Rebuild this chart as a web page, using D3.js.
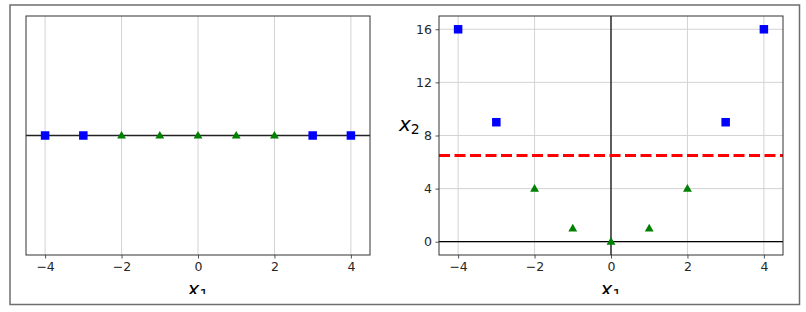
<!DOCTYPE html>
<html><head><meta charset="utf-8">
<script src="https://cdn.jsdelivr.net/npm/d3@7"></script>
<style>body{margin:0;background:#fff;} svg{display:block;}</style>
</head><body>
<script>
// ---- data ----
const x1Values = [-4, -3, -2, -1, 0, 1, 2, 3, 4];
const classes  = [0, 0, 1, 1, 1, 1, 1, 0, 0];
const x2Values = [16, 9, 4, 1, 0, 1, 4, 9, 16];
const threshold = 6.5;
const xTicks = [-4, -2, 0, 2, 4];
const yTicks = [0, 4, 8, 12, 16];

const W = 806, H = 312;
const svg = d3.select("body").append("svg").attr("width", W).attr("height", H);

svg.append("rect").attr("x", 10).attr("y", 5).attr("width", 789.5).attr("height", 299.5)
  .attr("fill", "none").attr("stroke", "#6e6e6e").attr("stroke-width", 1.5);

const defs = svg.append("defs");
defs.append("clipPath").attr("id", "labclip").append("rect")
  .attr("x", 0).attr("y", 0).attr("width", W).attr("height", 294);

const tickColor = "#262626";
const gridColor = "#d3d3d3";

function drawPanel(left, right, top, bottom, yDomain, opts) {
  const x = d3.scaleLinear().domain([-4.5, 4.5]).range([left, right]);
  const y = d3.scaleLinear().domain(yDomain).range([bottom, top]);
  const g = svg.append("g");

  // grid
  g.append("g").selectAll("line").data(xTicks).join("line")
    .attr("x1", d => x(d)).attr("x2", d => x(d)).attr("y1", top).attr("y2", bottom)
    .attr("stroke", gridColor).attr("stroke-width", 1);
  if (opts.yaxis) {
    g.append("g").selectAll("line").data(yTicks).join("line")
      .attr("y1", d => y(d)).attr("y2", d => y(d)).attr("x1", left).attr("x2", right)
      .attr("stroke", gridColor).attr("stroke-width", 1);
  }

  // x axis
  const xa = g.append("g").attr("transform", `translate(0,${bottom})`)
    .call(d3.axisBottom(x).tickValues(xTicks).tickSize(3.5).tickPadding(3.5)
      .tickFormat(d => d < 0 ? "\u2212" + Math.abs(d) : d));
  xa.select(".domain").remove();
  xa.selectAll("line").attr("stroke", tickColor).attr("stroke-width", 0.8);
  xa.selectAll("text").attr("fill", tickColor).attr("font-family", "DejaVu Sans").attr("font-size", 12.5);

  if (opts.yaxis) {
    const ya = g.append("g").attr("transform", `translate(${left},0)`)
      .call(d3.axisLeft(y).tickValues(yTicks).tickSize(3.5).tickPadding(3.5));
    ya.select(".domain").remove();
    ya.selectAll("line").attr("stroke", tickColor).attr("stroke-width", 0.8);
    ya.selectAll("text").attr("fill", tickColor).attr("font-family", "DejaVu Sans").attr("font-size", 12.5);
  }

  // axes lines
  g.append("line").attr("x1", left).attr("x2", right).attr("y1", y(0)).attr("y2", y(0))
    .attr("stroke", opts.yaxis ? "#000" : "#222").attr("stroke-width", opts.yaxis ? 1.2 : 1.6);
  if (opts.yaxis) {
    g.append("line").attr("x1", x(0)).attr("x2", x(0)).attr("y1", top).attr("y2", bottom)
      .attr("stroke", "#000").attr("stroke-width", 1.2);
    g.append("line").attr("x1", left).attr("x2", right).attr("y1", y(threshold)).attr("y2", y(threshold))
      .attr("stroke", "#ff0000").attr("stroke-width", 3).attr("stroke-dasharray", "11,4.5");
  }

  // points
  const pts = x1Values.map((v, i) => ({x: v, y: opts.yaxis ? x2Values[i] : 0, c: classes[i]}));
  const sq = 8.5;
  g.append("g").selectAll("rect").data(pts.filter(p => p.c === 0)).join("rect")
    .attr("x", d => x(d.x) - sq / 2).attr("y", d => y(d.y) - sq / 2)
    .attr("width", sq).attr("height", sq).attr("fill", "#0000ff");
  const tri = d3.symbol().type(d3.symbolTriangle).size(34);
  g.append("g").selectAll("path").data(pts.filter(p => p.c === 1)).join("path")
    .attr("transform", d => `translate(${x(d.x)},${y(d.y) + 0.5})`)
    .attr("d", tri).attr("fill", "#008000");

  // frame
  g.append("rect").attr("x", left).attr("y", top).attr("width", right - left).attr("height", bottom - top)
    .attr("fill", "none").attr("stroke", "#333").attr("stroke-width", 1);

  // x label
  const xl = svg.append("text").attr("clip-path", "url(#labclip)")
    .attr("x", (left + right) / 2).attr("y", 296).attr("text-anchor", "middle")
    .attr("font-family", "DejaVu Sans").attr("font-size", 20).attr("fill", "#000");
  xl.append("tspan").attr("font-style", "italic").text("x");
  xl.append("tspan").attr("font-size", 14).attr("dy", 3).text("1");
  return {x, y};
}

drawPanel(26, 370, 16, 255, [-0.2, 0.2], {yaxis: false});
drawPanel(439, 783, 16, 255, [-1, 17], {yaxis: true});

const yl = svg.append("text").attr("x", 399).attr("y", 131)
  .attr("font-family", "DejaVu Sans").attr("font-size", 20).attr("fill", "#000");
yl.append("tspan").attr("font-style", "italic").text("x");
yl.append("tspan").attr("font-size", 14).attr("dy", 3).text("2");
</script>
</body></html>
